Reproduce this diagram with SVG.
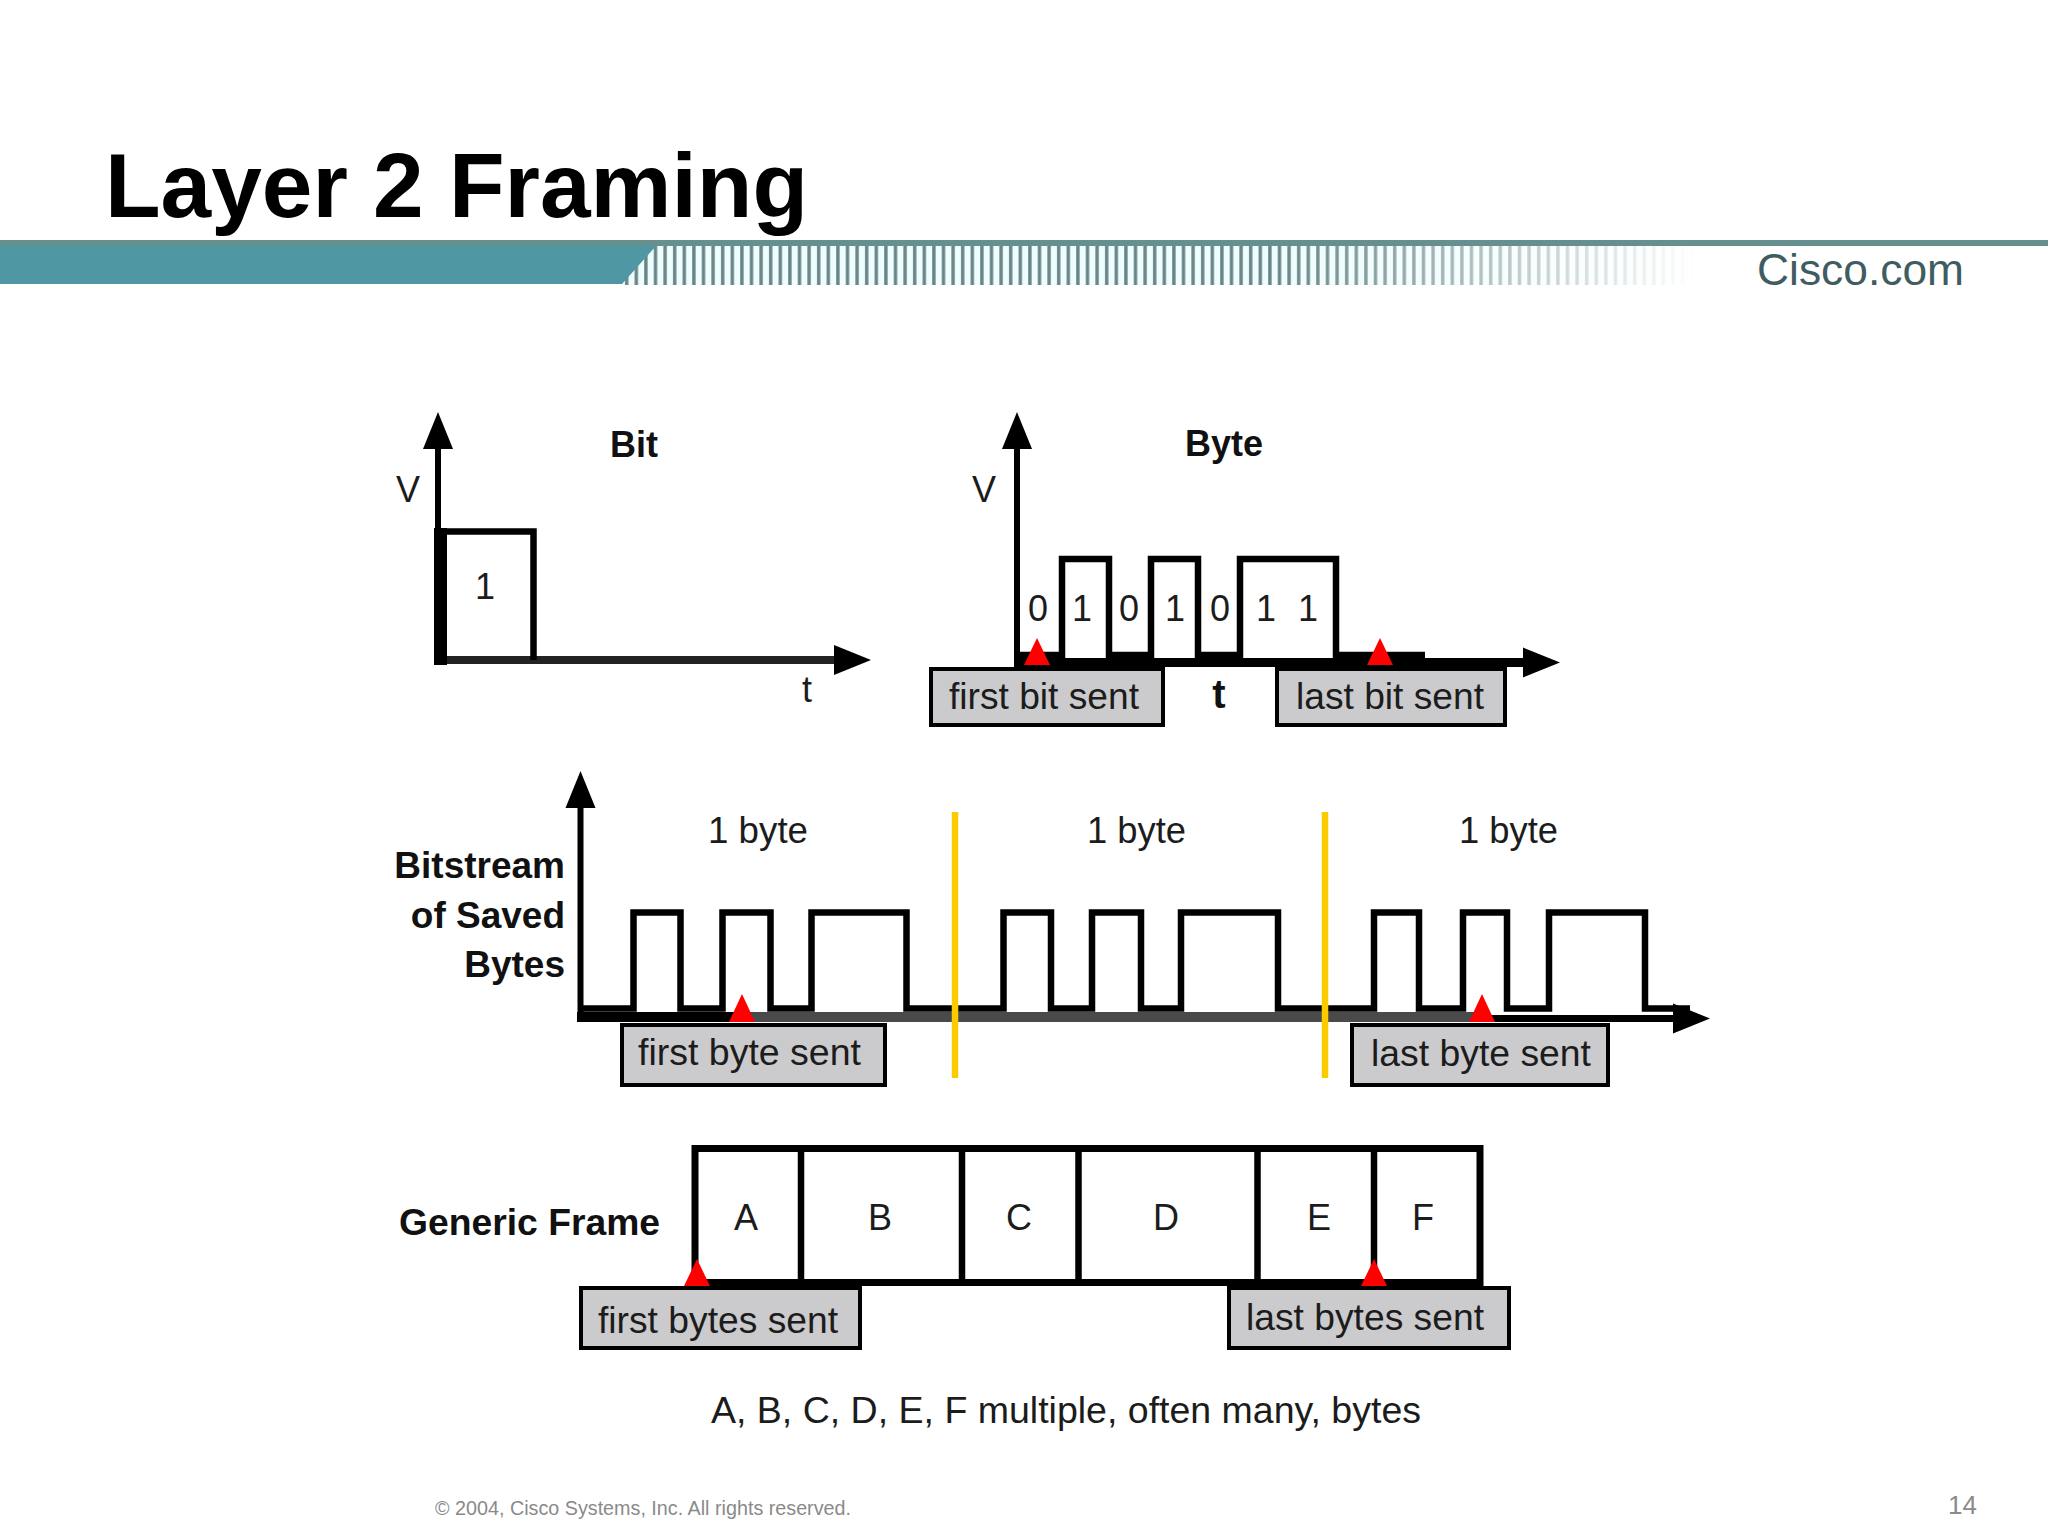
<svg xmlns="http://www.w3.org/2000/svg" width="2048" height="1536" viewBox="0 0 2048 1536">
<style>
text{font-family:"Liberation Sans",Arial,sans-serif;fill:#1c1c1c}
.r{font-size:36px}
.b{font-size:36px;font-weight:bold;fill:#111}
.m{text-anchor:middle}
.e{text-anchor:end}
.ax{fill:none;stroke:#000;stroke-width:6}
.wave{fill:none;stroke:#000;stroke-width:6.5}
.lab{fill:#cbcacc;stroke:#000;stroke-width:4}
.tri{fill:#f00}
.sep{stroke:#f9cb00;stroke-width:6.5}
</style>
<defs>
<marker id="ah" markerUnits="userSpaceOnUse" markerWidth="38" markerHeight="32" refX="1" refY="16" orient="auto"><path d="M0,1 L37,16 L0,31 z" fill="#000"/></marker>
<pattern id="st" patternUnits="userSpaceOnUse" x="622" y="0" width="9.6" height="10"><rect x="3" width="3.4" height="10" fill="#6a8588"/></pattern>
<linearGradient id="fade" gradientUnits="userSpaceOnUse" x1="1280" y1="0" x2="1695" y2="0"><stop offset="0" stop-color="#fff" stop-opacity="0"/><stop offset="1" stop-color="#fff" stop-opacity="1"/></linearGradient>
</defs>
<rect width="2048" height="1536" fill="#fff"/>
<g id="banner">
<rect x="622" y="246" width="1075" height="39" fill="#eefdfd"/>
<rect x="622" y="246" width="1075" height="39" fill="url(#st)"/>
<rect x="1280" y="246" width="417" height="40" fill="url(#fade)"/>
<polygon points="0,240 670,240 656,246 622,284 0,284" fill="#4f97a2"/>
<rect x="0" y="240" width="2048" height="6" fill="#66908f"/>
<text x="1757" y="285" font-size="44" textLength="207" lengthAdjust="spacingAndGlyphs" style="fill:#3f5c60">Cisco.com</text>
</g>
<text id="title" x="105" y="217" font-size="91" font-weight="bold" style="fill:#000">Layer 2 Framing</text>
<g id="connectors">
<path class="ax" d="M438,665 V448" marker-end="url(#ah)"/>
<path class="ax" d="M434,660 H835" style="stroke-width:8;stroke:#222" marker-end="url(#ah)"/>
<path class="ax" d="M1017,667 V448" marker-end="url(#ah)"/>
<path class="ax" d="M1014,662.5 H1524" style="stroke-width:9" marker-end="url(#ah)"/>
<path class="ax" d="M580.5,1020 V807" marker-end="url(#ah)"/>
<path class="ax" d="M577,1017 H745" style="stroke-width:10"/>
<path class="ax" d="M745,1017 H1480" style="stroke-width:10;stroke:#4a4a4a"/>
<path class="ax" d="M1475,1018.5 H1674" style="stroke-width:7" marker-end="url(#ah)"/>
</g>
<g id="bit">
<rect x="434" y="528" width="13" height="137" fill="#000"/>
<path class="wave" d="M440,531.5 H533.5 V660"/>
<text class="b m" x="634" y="457">Bit</text>
<text class="r m" x="408" y="502">V</text>
<text class="r m" x="485" y="599">1</text>
<text class="r m" x="807" y="702">t</text>
</g>
<g id="byte">
<path class="wave" d="M1017,655 H1062 V559 H1109 V655 H1151 V559 H1198 V655 H1240 V559 H1336 V655 H1425"/>
<text class="b m" x="1224" y="456">Byte</text>
<text class="r m" x="984" y="502">V</text>
<text class="r m" x="1038" y="621">0</text>
<text class="r m" x="1082" y="621">1</text>
<text class="r m" x="1129" y="621">0</text>
<text class="r m" x="1175" y="621">1</text>
<text class="r m" x="1220" y="621">0</text>
<text class="r m" x="1266" y="621">1</text>
<text class="r m" x="1308" y="621">1</text>
<text class="b m" x="1219" y="708" style="font-size:40px">t</text>
<polygon class="tri" points="1037,638 1050,665 1024,665"/>
<polygon class="tri" points="1380,638 1393,665 1367,665"/>
<rect class="lab" x="931" y="669" width="232" height="56"/>
<text class="r" x="949" y="709" textLength="190" lengthAdjust="spacingAndGlyphs">first bit sent</text>
<rect class="lab" x="1277" y="669" width="228" height="56"/>
<text class="r" x="1296" y="709" textLength="188" lengthAdjust="spacingAndGlyphs">last bit sent</text>
</g>
<g id="bitstream">
<path class="wave" d="M580,1008.5 H633.5 V912.5 H680.5 V1008.5 H722.5 V912.5 H770.5 V1008.5 H811.5 V912.5 H906.5 V1008.5 H1003.5 V912.5 H1051 V1008.5 H1092 V912.5 H1141 V1008.5 H1181 V912.5 H1278 V1008.5 H1374 V912.5 H1419 V1008.5 H1463 V912.5 H1507 V1008.5 H1549 V912.5 H1645 V1008.5 H1690"/>
<line class="sep" x1="955" y1="812" x2="955" y2="1078"/>
<line class="sep" x1="1325" y1="812" x2="1325" y2="1078"/>
<text class="b e" x="565" y="878" style="font-size:37px">Bitstream</text>
<text class="b e" x="565" y="928" style="font-size:37px">of Saved</text>
<text class="b e" x="565" y="977" style="font-size:37px">Bytes</text>
<text class="r" x="708" y="843" textLength="100" lengthAdjust="spacingAndGlyphs">1 byte</text>
<text class="r" x="1087" y="843" textLength="99" lengthAdjust="spacingAndGlyphs">1 byte</text>
<text class="r" x="1459" y="843" textLength="99" lengthAdjust="spacingAndGlyphs">1 byte</text>
<polygon class="tri" points="742,994 755,1022 729,1022"/>
<polygon class="tri" points="1482,994 1495,1022 1469,1022"/>
<rect class="lab" x="622" y="1025" width="263" height="60"/>
<text class="r" x="638" y="1065" textLength="223" lengthAdjust="spacingAndGlyphs">first byte sent</text>
<rect class="lab" x="1352" y="1025" width="256" height="60"/>
<text class="r" x="1371" y="1066" textLength="220" lengthAdjust="spacingAndGlyphs">last byte sent</text>
</g>
<g id="frame">
<path fill="none" stroke="#000" stroke-width="7" d="M695,1282.5 V1148.5 H1480 V1282.5 H695"/>
<path fill="none" stroke="#000" stroke-width="6.5" d="M801,1150 V1282 M962,1150 V1282 M1078.5,1150 V1282 M1257.5,1150 V1282 M1374,1150 V1282"/>
<text class="b" x="399" y="1235" textLength="261" lengthAdjust="spacingAndGlyphs">Generic Frame</text>
<text class="r m" x="746" y="1230">A</text>
<text class="r m" x="880" y="1230">B</text>
<text class="r m" x="1019" y="1230">C</text>
<text class="r m" x="1166" y="1230">D</text>
<text class="r m" x="1319" y="1230">E</text>
<text class="r m" x="1423" y="1230">F</text>
<polygon class="tri" points="697,1259 710,1286 684,1286"/>
<polygon class="tri" points="1374,1259 1387,1286 1361,1286"/>
<rect class="lab" x="581" y="1288" width="279" height="60"/>
<text class="r" x="598" y="1333" textLength="240" lengthAdjust="spacingAndGlyphs">first bytes sent</text>
<rect class="lab" x="1229" y="1288" width="280" height="60"/>
<text class="r" x="1246" y="1330" textLength="238" lengthAdjust="spacingAndGlyphs">last bytes sent</text>
<text class="r" x="711" y="1423" textLength="710" lengthAdjust="spacingAndGlyphs">A, B, C, D, E, F multiple, often many, bytes</text>
</g>
<g id="footer">
<text x="435" y="1515" font-size="20" textLength="416" lengthAdjust="spacingAndGlyphs" style="fill:#8a8a8a">© 2004, Cisco Systems, Inc. All rights reserved.</text>
<text x="1948" y="1514" font-size="26" style="fill:#8a8a8a">14</text>
</g>
</svg>
